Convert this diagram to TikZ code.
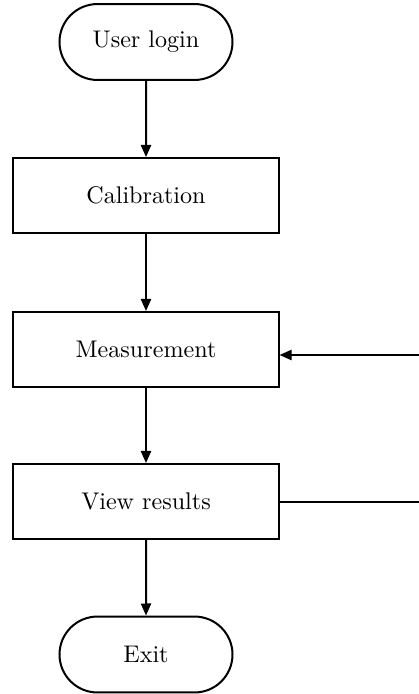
\documentclass[tikz,border=0pt]{standalone}
\usetikzlibrary{shapes.misc,arrows.meta}
\begin{document}
\begin{tikzpicture}[x=0.415pt,y=-0.415pt,
  every node/.style={font=\normalsize},
  procbox/.style={draw,line width=0.83pt,minimum width=110pt,minimum height=31.1pt,inner sep=0pt},
  termbox/.style={draw,line width=0.83pt,rounded rectangle,minimum width=71.8pt,minimum height=31.5pt,inner sep=0pt},
  conn/.style={line width=0.83pt,-{Triangle[length=5pt,width=4.2pt]}},
  plain/.style={line width=0.83pt}]
\useasboundingbox (0,0) rectangle (419,694);
\node[termbox] (login) at (146,42) {User login};
\node[procbox] (cal) at (146,195.5) {Calibration};
\node[procbox] (meas) at (146,349.5) {Measurement};
\node[procbox] (view) at (146,501.5) {View results};
\node[termbox] (exit) at (146,654.5) {Exit};
\coordinate (rin) at (419,355);
\coordinate (rout) at (419,502);
\draw[conn] (login) -- (cal);
\draw[conn] (cal) -- (meas);
\draw[conn] (meas) -- (view);
\draw[conn] (view) -- (exit);
\draw[conn] (rin) -- (meas.east |- rin);
\draw[plain] (view.east |- rout) -- (rout);
\end{tikzpicture}
\end{document}
